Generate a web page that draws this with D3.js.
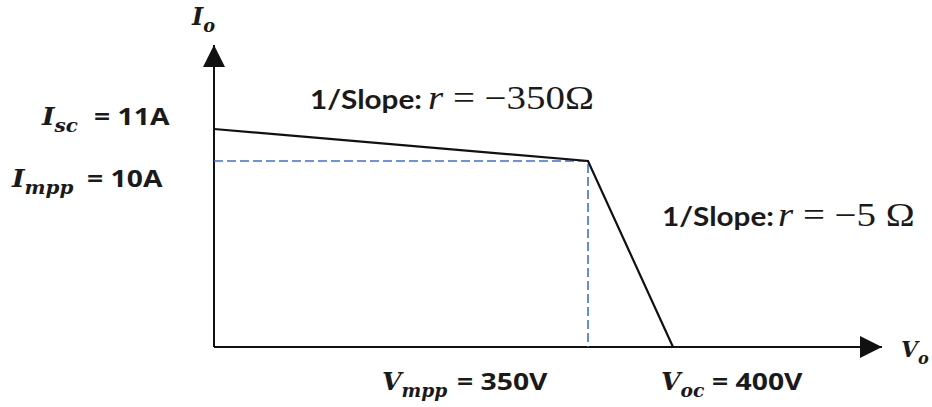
<!DOCTYPE html>
<html>
<head>
<meta charset="utf-8">
<script src="https://cdn.jsdelivr.net/npm/d3@7"></script>
<style>
    body { margin: 0; background: #fff; }
    svg { display: block; }
</style>
</head>
<body>
<div id="chart-container"></div>
<script>
// I-V curve corner points (schematic)
const voltages = [0, 350, 400];
const currents = [11, 10, 0];

// maximum power point
const mppVoltage = 350;
const mppCurrent = 10;

// labels
const currentLabels = [
    {sym: "I", sub: "sc", rest: "= 11A"},
    {sym: "I", sub: "mpp", rest: "= 10A"}
];
const voltageLabels = [
    {sym: "V", sub: "mpp", rest: "= 350V"},
    {sym: "V", sub: "oc", rest: "= 400V"}
];
const slopeLabels = [
    {text: "1/Slope:", math: "= \u2212350\u03A9"},
    {text: "1/Slope:", math: "= \u22125 \u03A9"}
];

const chartWidth = 932;
const chartHeight = 407;
const origin = {x: 214, y: 347};
const axisEnd = {x: 882, y: 45};
const stretch = 1.18; // text in the picture is stretched sideways

const sansFont = "'Open Sans', Lato, sans-serif";
const titleFont = "Lato, 'Open Sans', sans-serif";
const symFont = "'DejaVu Serif', serif";
const mathFont = "'Liberation Serif', serif";

// the picture is schematic, so the scales are piecewise linear
const xScale = d3.scaleLinear()
    .domain(voltages)
    .range([origin.x, 588, 673]);

const yScale = d3.scaleLinear()
    .domain([0, 10, 11])
    .range([origin.y, 161, 129]);

const chartSvg = d3.select("#chart-container").append("svg")
    .attr("width", chartWidth)
    .attr("height", chartHeight);

chartSvg.append("defs").append("marker")
    .attr("id", "arrow")
    .attr("viewBox", "0 0 22 22")
    .attr("refX", 22)
    .attr("refY", 11)
    .attr("markerWidth", 22)
    .attr("markerHeight", 22)
    .attr("markerUnits", "userSpaceOnUse")
    .attr("orient", "auto")
    .append("path")
    .attr("d", "M0,0 L22,11 L0,22 Z")
    .attr("fill", "#111");

// axes
chartSvg.append("line")
    .attr("x1", origin.x).attr("y1", origin.y)
    .attr("x2", axisEnd.x).attr("y2", origin.y)
    .attr("stroke", "#111")
    .attr("stroke-width", 2)
    .attr("marker-end", "url(#arrow)");

chartSvg.append("line")
    .attr("x1", origin.x).attr("y1", origin.y)
    .attr("x2", origin.x).attr("y2", axisEnd.y)
    .attr("stroke", "#111")
    .attr("stroke-width", 2)
    .attr("marker-end", "url(#arrow)");

// dashed guides to the mpp
chartSvg.append("path")
    .attr("d", d3.line()([
        [xScale(0), yScale(mppCurrent)],
        [xScale(mppVoltage), yScale(mppCurrent)],
        [xScale(mppVoltage), yScale(0)]
    ]))
    .attr("fill", "none")
    .attr("stroke", "#3b6fe0")
    .attr("stroke-width", 1.6)
    .attr("stroke-dasharray", "9,4");

// the curve
const curve = voltages.map((v, i) => ({v: v, i: currents[i]}));
chartSvg.append("path")
    .datum(curve)
    .attr("d", d3.line().x(d => xScale(d.v)).y(d => yScale(d.i)))
    .attr("fill", "none")
    .attr("stroke", "#111")
    .attr("stroke-width", 2.2);

// text placed in a sideways-stretched group
function stretchedText(x, y, sx) {
    return chartSvg.append("g")
        .attr("transform", `translate(${x},${y}) scale(${sx},1)`)
        .append("text")
        .attr("fill", "#1a1a1a");
}

function symbolText(d, x, y, size, sx) {
    const t = stretchedText(x, y, sx);
    t.append("tspan")
        .attr("font-family", symFont)
        .attr("font-style", "italic")
        .attr("font-weight", "bold")
        .attr("font-size", size)
        .text(d.sym);
    t.append("tspan")
        .attr("font-family", symFont)
        .attr("font-style", "italic")
        .attr("font-weight", "bold")
        .attr("font-size", size * 0.74)
        .attr("dy", size * 0.3)
        .text(d.sub);
}

function valueText(text, x, y) {
    stretchedText(x, y, stretch)
        .attr("font-family", sansFont)
        .attr("font-weight", "bold")
        .attr("font-size", 24)
        .attr("xml:space", "preserve")
        .text(text);
}

// current labels left of the axis
const currentPos = [{x: 42, eq: 94, y: 125}, {x: 12, eq: 87, y: 187}];
currentLabels.forEach((d, i) => {
    symbolText(d, currentPos[i].x, currentPos[i].y, 24, 1.12);
    valueText(d.rest, currentPos[i].eq, currentPos[i].y);
});

// voltage labels under the axis
const voltagePos = [{x: 382, eq: 457, y: 390}, {x: 661, eq: 712, y: 390}];
voltageLabels.forEach((d, i) => {
    symbolText(d, voltagePos[i].x, voltagePos[i].y, 24, 1.05);
    valueText(d.rest, voltagePos[i].eq, voltagePos[i].y);
});

// axis titles
symbolText({sym: "I", sub: "o"}, 192, 25, 24, 1);
symbolText({sym: "V", sub: "o"}, 901, 357, 23, 0.95);

// slope labels
const slopePos = [{x: 310, r: 428, y: 109}, {x: 662, r: 778, y: 226}];
slopeLabels.forEach((d, i) => {
    stretchedText(slopePos[i].x, slopePos[i].y, 1.1)
        .attr("font-family", titleFont)
        .attr("font-weight", "bold")
        .attr("font-size", 27)
        .text(d.text);
    const t = stretchedText(slopePos[i].r, slopePos[i].y, stretch)
        .attr("font-family", mathFont)
        .attr("font-size", 33)
        .attr("xml:space", "preserve");
    t.append("tspan")
        .attr("font-style", "italic")
        .text("r");
    t.append("tspan")
        .text(" " + d.math);
});
</script>
</body>
</html>
